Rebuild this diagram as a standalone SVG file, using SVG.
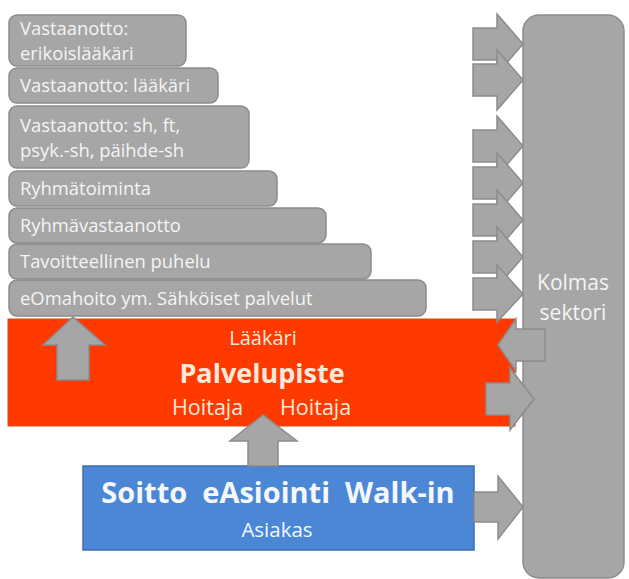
<svg xmlns="http://www.w3.org/2000/svg" width="629" height="579" viewBox="0 0 629 579">
  <style>
    .box { fill: #a6a6a6; stroke: #8c8c8c; stroke-width: 1.5; }
    .arrow { fill: #a6a6a6; stroke: #8c8c8c; stroke-width: 1.5; stroke-linejoin: miter; }
    .lbl { font-family: "Open Sans", "Noto Sans", sans-serif; font-size: 18.4px; fill: #f4f4f4; }
    .big { font-size: 21px; }
    .mid { text-anchor: middle; }
    .warm { font-family: "Open Sans", "Noto Sans", sans-serif; fill: #fde9dc; }
    .cool { font-family: "Open Sans", "Noto Sans", sans-serif; fill: #f4f8fd; }
  </style>

  <rect width="629" height="579" fill="#ffffff"/>

  <!-- third sector column -->
  <g id="kolmas-sektori">
    <rect class="box" x="523" y="15" width="101" height="563" rx="16"/>
    <text class="lbl big mid" x="573" y="290">Kolmas</text>
    <text class="lbl big mid" x="573" y="320">sektori</text>
  </g>

  <!-- stacked service levels -->
  <g id="vastaanotto-erikoislaakari">
    <rect class="box" x="9" y="15" width="177" height="51" rx="8"/>
    <text class="lbl" x="20" y="35">Vastaanotto:</text>
    <text class="lbl" x="20" y="60">erikoislääkäri</text>
  </g>
  <g id="vastaanotto-laakari">
    <rect class="box" x="9" y="68" width="209" height="35" rx="8"/>
    <text class="lbl" x="20" y="92">Vastaanotto: lääkäri</text>
  </g>
  <g id="vastaanotto-sh">
    <rect class="box" x="9" y="106" width="240" height="62" rx="8"/>
    <text class="lbl" x="20" y="132">Vastaanotto: sh, ft,</text>
    <text class="lbl" x="20" y="157">psyk.-sh, päihde-sh</text>
  </g>
  <g id="ryhmatoiminta">
    <rect class="box" x="9" y="171" width="268" height="35" rx="8"/>
    <text class="lbl" x="20" y="195">Ryhmätoiminta</text>
  </g>
  <g id="ryhmavastaanotto">
    <rect class="box" x="9" y="208" width="317" height="35" rx="8"/>
    <text class="lbl" x="20" y="232">Ryhmävastaanotto</text>
  </g>
  <g id="tavoitteellinen-puhelu">
    <rect class="box" x="9" y="244" width="362" height="35" rx="8"/>
    <text class="lbl" x="20" y="268">Tavoitteellinen puhelu</text>
  </g>
  <g id="eomahoito">
    <rect class="box" x="9" y="280" width="417" height="36" rx="8"/>
    <text class="lbl" x="20" y="305">eOmahoito ym. Sähköiset palvelut</text>
  </g>

  <!-- service point -->
  <g id="palvelupiste">
    <rect x="8" y="319" width="507" height="107" fill="#fe3a00" stroke="#d84a10" stroke-width="1"/>
    <text class="warm mid" x="263" y="345" font-size="20">Lääkäri</text>
    <text class="warm mid" x="262" y="383" font-size="27" font-weight="bold" fill="#fff3ec">Palvelupiste</text>
    <text class="warm" x="172" y="415" font-size="21.5">Hoitaja</text>
    <text class="warm" x="280" y="415" font-size="21.5">Hoitaja</text>
  </g>

  <!-- customer channels -->
  <g id="asiakas">
    <rect x="83" y="466" width="391" height="84" fill="#4b87d5" stroke="#3b6db3" stroke-width="1.5"/>
    <text class="cool mid" x="278" y="503" font-size="29" font-weight="bold" style="white-space:pre">Soitto  eAsiointi  Walk-in</text>
    <text class="cool mid" x="277" y="537" font-size="20.5">Asiakas</text>
  </g>

  <!-- block arrows -->
  <g id="connectors">
    <!-- into the third sector -->
    <path class="arrow" d="M473,28 H497 V14 L523,44 L497,74 V60 H473 Z"/>
    <path class="arrow" d="M473,64 H497 V50 L523,80 L497,110 V96 H473 Z"/>
    <path class="arrow" d="M473,130 H497 V116 L523,146 L497,176 V162 H473 Z"/>
    <path class="arrow" d="M473,167 H497 V153 L523,183 L497,213 V199 H473 Z"/>
    <path class="arrow" d="M473,204 H497 V190 L523,220 L497,250 V236 H473 Z"/>
    <path class="arrow" d="M473,241 H497 V227 L523,257 L497,287 V273 H473 Z"/>
    <path class="arrow" d="M473,278 H497 V265 L523,294 L497,322 V310 H473 Z"/>
    <!-- third sector back into the service point -->
    <path class="arrow" d="M545,329 H516 V319 L498,345 L516,371 V361 H545 Z"/>
    <!-- service point out to the third sector -->
    <path class="arrow" d="M486,383 H510 V368 L534,399 L510,430 V415 H486 Z"/>
    <!-- customer out to the third sector -->
    <path class="arrow" d="M474,492 H498 V476 L523,507 L498,539 V522 H474 Z"/>
    <!-- service point up to the e-services -->
    <path class="arrow" d="M57,380 V345 H43 L73,317 L105,345 H89 V380 Z"/>
    <!-- customer up to the service point -->
    <path class="arrow" d="M248,466 V441 H230 L263,415 L297,441 H278 V466 Z"/>
  </g>
</svg>
